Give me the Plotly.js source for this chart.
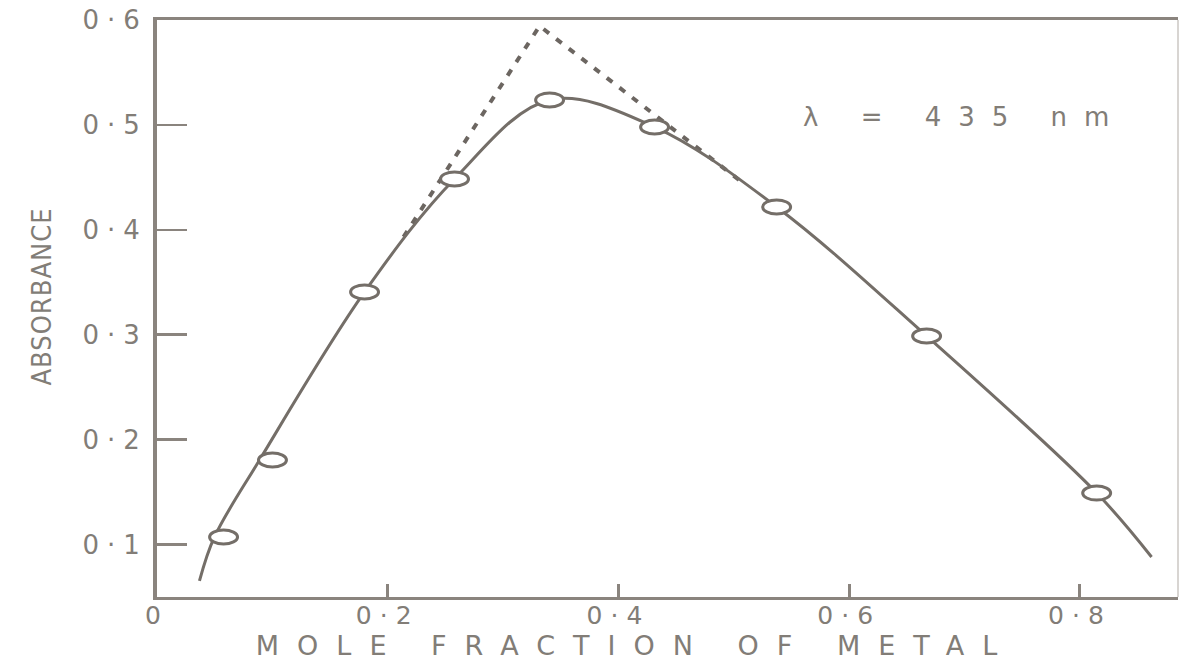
<!DOCTYPE html>
<html>
<head>
<meta charset="utf-8">
<script src="https://cdn.plot.ly/plotly-3.0.1.min.js"></script>
<style>
  html, body { margin: 0; padding: 0; background: #fff; }
  #chart { width: 1182px; height: 660px; }
  g.xtick text, g.ytick text { letter-spacing: 8px; }
  .xtitle { letter-spacing: 18px; }
  .ytitle { letter-spacing: 1px; }
  .annotation-text { letter-spacing: 17px; }
</style>
</head>
<body>
<div id="chart"></div>
<script>
// Smooth fitted curve
const curveX = [0.0368, 0.0498, 0.0889, 0.1799, 0.2579, 0.3403, 0.4313, 0.5371, 0.6671, 0.8145, 0.8621];
const curveY = [0.0653, 0.1072, 0.1806, 0.3408, 0.4485, 0.5238, 0.4980, 0.4218, 0.2988, 0.1491, 0.0881];

// Measured points (open ellipses)
const pointX = [0.0577, 0.1001, 0.1799, 0.2579, 0.3403, 0.4313, 0.5371, 0.6671, 0.8145];
const pointY = [0.1072, 0.1806, 0.3408, 0.4485, 0.5238, 0.4980, 0.4218, 0.2988, 0.1491];

// Extrapolated tangent lines (dashed)
const tangentX = [0.2137, 0.3316, 0.5045];
const tangentY = [0.3932, 0.5943, 0.4475];

// Tick labels
const xTickVals = [0, 0.2, 0.4, 0.6, 0.8];
const xTickText = ['0', '0·2', '0·4', '0·6', '0·8'];
const yTickVals = [0.1, 0.2, 0.3, 0.4, 0.5, 0.6];
const yTickText = ['0·1', '0·2', '0·3', '0·4', '0·5', '0·6'];

const inkLine = '#746e68';
const inkAxis = '#8a847e';
const inkText = '#827d77';

const traces = [
  {
    x: tangentX, y: tangentY, mode: 'lines', type: 'scatter',
    line: { color: '#6c6661', width: 4, dash: '7px,9px' },
    hoverinfo: 'skip', showlegend: false
  },
  {
    x: curveX, y: curveY, mode: 'lines', type: 'scatter',
    line: { color: inkLine, width: 3, shape: 'spline', smoothing: 1 },
    hoverinfo: 'skip', showlegend: false
  }
];

const shapes = pointX.map((px, i) => ({
  type: 'circle', xref: 'x', yref: 'y', layer: 'above',
  xsizemode: 'pixel', ysizemode: 'pixel',
  xanchor: px, yanchor: pointY[i],
  x0: -14, x1: 14, y0: -7, y1: 7,
  fillcolor: '#ffffff', line: { color: inkLine, width: 3 }
}));
shapes.push({
  type: 'line', xref: 'paper', yref: 'paper', x0: 1, x1: 1, y0: 0, y1: 1,
  line: { color: '#d8d5d2', width: 2 }, layer: 'above'
});

const layout = {
  width: 1182, height: 660,
  margin: { l: 157, r: 4, t: 20, b: 63 },
  paper_bgcolor: '#ffffff', plot_bgcolor: '#ffffff',
  showlegend: false,
  xaxis: {
    range: [0, 0.885], showgrid: false, zeroline: false,
    showline: true, linecolor: inkAxis, linewidth: 3, mirror: true,
    ticks: 'inside', ticklen: 13, tickwidth: 3, tickcolor: inkAxis,
    tickvals: xTickVals, ticktext: xTickText,
    tickfont: { family: 'DejaVu Sans', size: 25, color: inkText },
    title: { text: 'MOLE FRACTION OF METAL', standoff: 20,
             font: { family: 'DejaVu Sans', size: 27, color: inkText } }
  },
  yaxis: {
    range: [0.05, 0.6], showgrid: false, zeroline: false,
    showline: true, linecolor: inkAxis, linewidth: 4,
    ticks: 'inside', ticklen: 30, tickwidth: 2.5, tickcolor: inkAxis,
    tickvals: yTickVals, ticktext: yTickText,
    tickfont: { family: 'DejaVu Sans', size: 26, color: inkText },
    title: { text: 'ABSORBANCE', standoff: 24,
             font: { family: 'DejaVu Sans Condensed, Liberation Sans Narrow, sans-serif', size: 27, color: inkText } }
  },
  shapes: shapes,
  annotations: [{
    x: 0.70, y: 0.5076, xref: 'x', yref: 'y', showarrow: false,
    text: 'λ = 435 nm',
    font: { family: 'DejaVu Sans', size: 26, color: inkText }
  }]
};

function nudge(el, dx, dy) {
  const x = parseFloat(el.getAttribute('x')) || 0;
  const y = parseFloat(el.getAttribute('y')) || 0;
  el.setAttribute('x', x + dx);
  el.setAttribute('y', y + dy);
  const tr = el.getAttribute('transform');
  if (tr && tr.indexOf('rotate') === 0) {
    el.setAttribute('transform', 'rotate(-90,' + (x + dx) + ',' + (y + dy) + ')');
  }
}

Plotly.newPlot('chart', traces, layout, { staticPlot: true, displayModeBar: false }).then(gd => {
  gd.querySelectorAll('g.xtick text').forEach(t => nudge(t, 0, -6));
  const xt = gd.querySelector('.xtitle');
  if (xt) nudge(xt, -32, 1);
  const yt = gd.querySelector('.ytitle');
  if (yt) nudge(yt, 0, -12);
});
</script>
</body>
</html>
